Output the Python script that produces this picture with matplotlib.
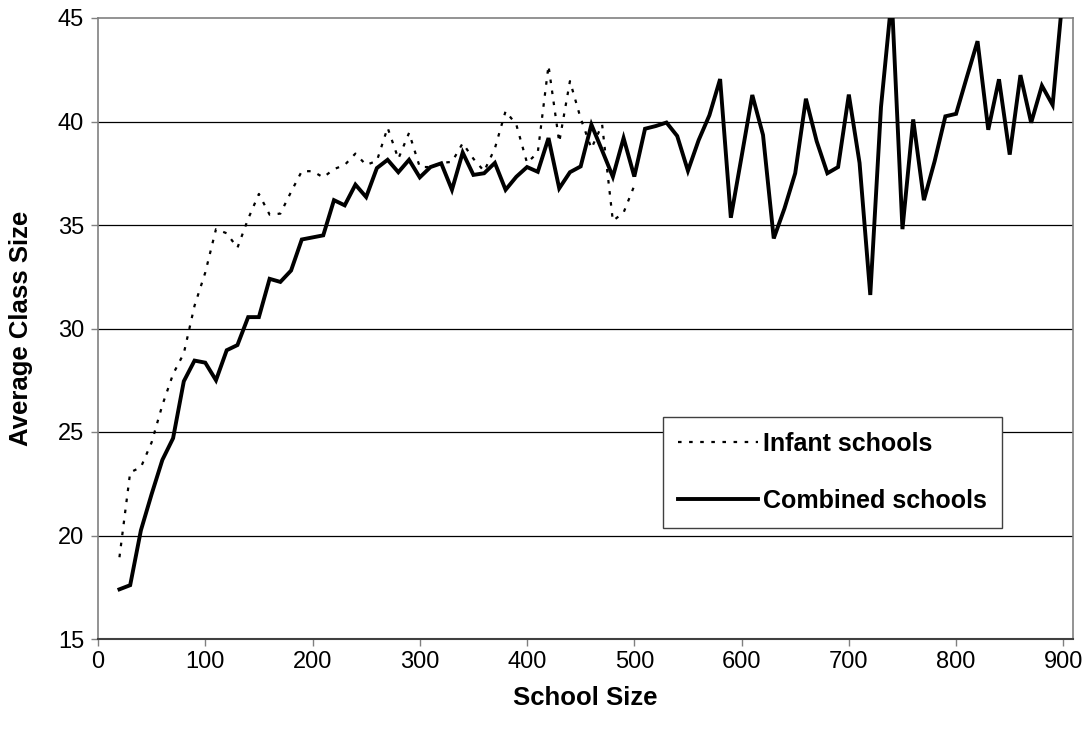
import matplotlib
matplotlib.use('Agg')
import matplotlib.pyplot as plt
import numpy as np

plt.rcParams['font.family'] = ['Liberation Sans', 'DejaVu Sans']

# school size (x) and average class size (y)
combined_size = list(range(20, 910, 10))
combined_class = [
    17.4, 17.6, 20.25, 22.0, 23.65, 24.7, 27.45, 28.45, 28.35, 27.5,      # 20-110
    28.95, 29.2, 30.55, 30.55, 32.4, 32.25, 32.8, 34.3, 34.4, 34.5,       # 120-210
    36.2, 35.95, 36.95, 36.35, 37.75, 38.15, 37.55, 38.15, 37.3, 37.8,    # 220-310
    37.98, 36.7, 38.5, 37.42, 37.5, 38.0, 36.7, 37.33, 37.8, 37.57,       # 320-410
    39.2, 36.77, 37.55, 37.83, 39.85, 38.6, 37.33, 39.2, 37.34, 39.65,    # 420-510
    39.78, 39.95, 39.3, 37.62, 39.1, 40.3, 42.05, 35.35, 38.3, 41.28,     # 520-610
    39.35, 34.35, 35.8, 37.5, 41.1, 39.05, 37.5, 37.8, 41.3, 38.0,        # 620-710
    31.62, 40.7, 46.0, 34.8, 40.1, 36.2, 38.08, 40.25, 40.37, 42.14,      # 720-810
    43.88, 39.6, 42.04, 38.4, 42.24, 39.94, 41.73, 40.8, 46.4,            # 820-900
]

infant_size = list(range(20, 510, 10))
infant_class = [
    18.95, 23.05, 23.3, 24.5, 26.3, 27.8, 28.8, 31.1, 32.7, 34.8,         # 20-110
    34.6, 33.9, 35.3, 36.5, 35.5, 35.55, 36.6, 37.6, 37.6, 37.3,          # 120-210
    37.7, 37.9, 38.45, 37.9, 38.1, 39.7, 38.2, 39.45, 37.8, 37.8,         # 220-310
    38.0, 38.05, 38.95, 38.2, 37.6, 38.7, 40.5, 39.85, 38.0, 38.5,        # 320-410
    42.7, 39.0, 41.95, 40.15, 38.7, 39.85, 35.2, 35.6, 36.9,              # 420-500
]

fig = plt.figure(figsize=(10.91, 7.35), dpi=100)
ax = fig.add_axes([98 / 1091, 1 - 639 / 735, (1073 - 98) / 1091, (639 - 18) / 735])

for y in [20, 25, 30, 35, 40]:
    ax.axhline(y, color='black', lw=0.9, zorder=1)

ax.plot(infant_size, infant_class, color='black', lw=1.6,
        linestyle=(0, (1.6, 3.4)), label='Infant schools', zorder=3)
ax.plot(combined_size, combined_class, color='black', lw=2.8,
        solid_joinstyle='miter', label='Combined schools', zorder=4)

ax.set_xlim(0, 909)
ax.set_ylim(15, 45)
ax.set_xticks(range(0, 1000, 100))
ax.set_yticks(range(15, 50, 5))

for side in ['top', 'right', 'left']:
    ax.spines[side].set_color('#808080')
    ax.spines[side].set_linewidth(1.2)
ax.spines['bottom'].set_color('#404040')
ax.spines['bottom'].set_linewidth(1.5)

ax.tick_params(axis='both', direction='out', length=5, width=1, color='#808080',
               labelsize=17)
ax.tick_params(axis='x', pad=4)
ax.tick_params(axis='y', pad=5)

ax.set_xlabel('School Size', fontsize=18.5, fontweight='bold', labelpad=9)
ax.set_ylabel('Average Class Size', fontsize=18.5, fontweight='bold', labelpad=18)

leg = ax.legend(loc='upper left', bbox_to_anchor=(663 / 1091, 1 - 417 / 735),
                bbox_transform=fig.transFigure,
                prop={'weight': 'bold', 'size': 18},
                frameon=True, fancybox=False, shadow=False,
                handlelength=3.2, handletextpad=0.2, labelspacing=1.3,
                borderpad=0.6, borderaxespad=0)
leg.get_frame().set_edgecolor('#404040')
leg.get_frame().set_linewidth(1.0)
leg.get_frame().set_alpha(1)
leg.set_zorder(10)

fig.savefig('out.png', dpi=100)
